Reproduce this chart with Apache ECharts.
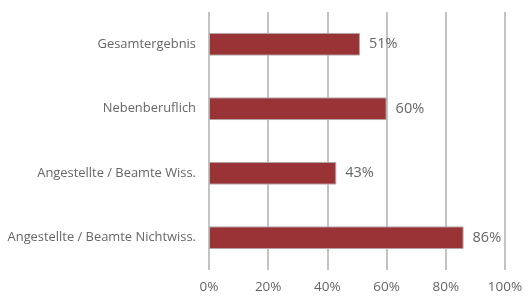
<!DOCTYPE html>
<html>
<head>
<meta charset="utf-8">
<script src="https://cdn.jsdelivr.net/npm/echarts@6/dist/echarts.min.js"></script>
<style>
  html, body { margin: 0; padding: 0; background: #fff; }
  #chart { width: 531px; height: 298px; }
</style>
</head>
<body>
<div id="chart"></div>
<script>
const categories = ['Gesamtergebnis', 'Nebenberuflich', 'Angestellte / Beamte Wiss.', 'Angestellte / Beamte Nichtwiss.'];
const values = [51, 60, 43, 86];
const ticks = [0, 20, 40, 60, 80, 100];

const chart = echarts.init(document.getElementById('chart'), null, { renderer: 'canvas' });
const font = 'Open Sans';

chart.setOption({
  animation: false,
  grid: { left: 209, right: 26, top: 12, bottom: 28 },
  xAxis: {
    type: 'value',
    min: ticks[0],
    max: ticks[ticks.length - 1],
    interval: 20,
    axisLine: { show: false },
    axisTick: { show: false },
    splitLine: { lineStyle: { color: '#c3c3c3', width: 2 } },
    axisLabel: {
      formatter: '{value}%',
      color: '#666',
      fontFamily: font,
      fontSize: 13.5,
      margin: 10
    }
  },
  yAxis: {
    type: 'category',
    inverse: true,
    data: categories,
    axisLine: { show: false },
    axisTick: { show: false },
    axisLabel: {
      color: '#666',
      fontFamily: font,
      fontSize: 12.9,
      margin: 13
    }
  },
  series: [{
    type: 'bar',
    data: values,
    barWidth: '35%',
    itemStyle: { color: '#993335', borderColor: '#b5a5a5', borderWidth: 1 },
    label: {
      show: true,
      position: 'right',
      distance: 9,
      formatter: '{c}%',
      color: '#666',
      fontFamily: font,
      fontSize: 14.5
    }
  }]
});
</script>
</body>
</html>
